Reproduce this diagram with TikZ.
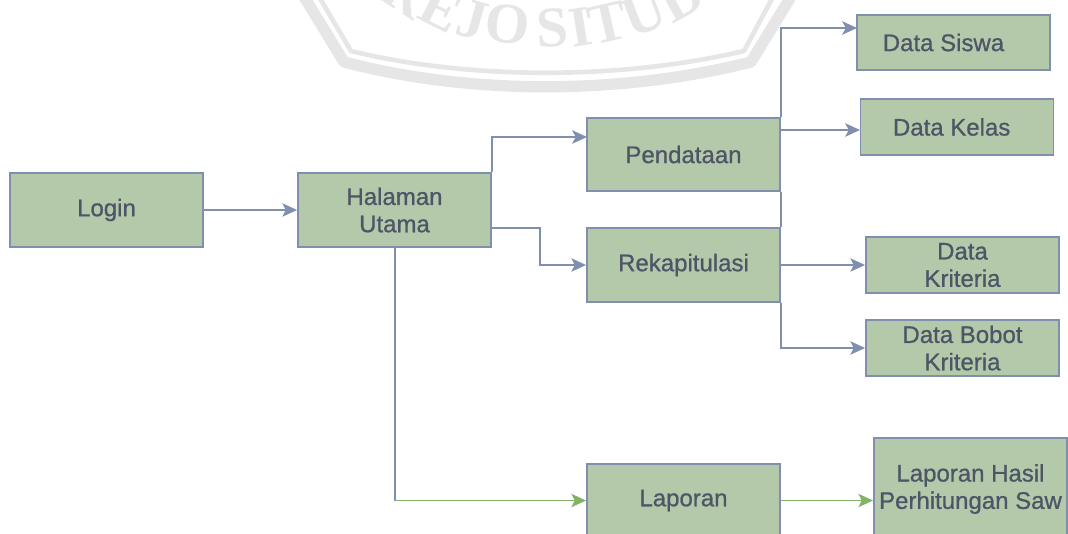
\documentclass[tikz,border=0pt]{standalone}
\usepackage{fontspec}
\setmainfont[FakeBold=0.8]{Liberation Sans}
\newfontfamily\sealfont{Liberation Serif}
\usetikzlibrary{arrows.meta}
\definecolor{boxfill}{HTML}{B3C9AA}
\definecolor{boxline}{HTML}{7F8FAD}
\definecolor{boxtext}{HTML}{4D5566}
\definecolor{greenline}{HTML}{82B366}
\definecolor{sealgrey}{HTML}{E6E6E6}
\tikzset{
  box/.style={draw=boxline, fill=boxfill, line width=1.4pt, minimum width=144.75pt, minimum height=55pt, inner sep=0pt, align=center, text=boxtext, font=\fontsize{18}{20.5}\selectfont},
  smallbox/.style={box, minimum height=41.5pt},
  link/.style={draw=boxline, line width=1.4pt},
  arrow/.style={link, -{Stealth[length=11pt, width=10pt, inset=2.5pt]}, boxline},
  greenarrow/.style={arrow, draw=greenline, greenline}
}
\begin{document}
\begin{tikzpicture}[x=0.75pt, y=-0.75pt]
  \useasboundingbox (0, 0) rectangle (1068, 533);

  % seal
  \begin{scope}
    \clip (0, 0) rectangle (1068, 533);
    \draw[sealgrey, line width=8.5pt, line join=round] (303, -5) -- (344, 62) .. controls (470, 95) and (620, 95) .. (751, 62) -- (792, -5);
    \draw[sealgrey, line width=3.5pt, line join=round] (318, -5) -- (351, 51) .. controls (470, 80) and (620, 80) .. (744, 51) -- (774, -5);
    \foreach \letter/\x/\y/\rot in {R/406/-6/-33, E/441/9/-27, J/472/20/-16, O/508/24/-6, S/552/28/3, I/581/27/9, T/608/23/13, U/644/14/21, D/682/-2/29} {
      \node[sealgrey, rotate=\rot, font=\sealfont\bfseries\fontsize{43}{43}\selectfont] at (\x, \y) {\letter};
    }
  \end{scope}

  % boxes
  \node[box] (login) at (106.5, 210) {Login};
  \node[box] (utama) at (394.5, 210) {Halaman\\Utama};
  \node[box] (pendataan) at (683.5, 154.5) {Pendataan};
  \node[box] (rekap) at (683.5, 265) {Rekapitulasi};
  \node[box] (laporan) at (683.5, 500.5) {Laporan};
  \node[smallbox] (siswa) at (953.5, 42.5) {Data Siswa\hspace*{15pt}};
  \node[smallbox] (kelas) at (957, 127) {Data Kelas\hspace*{8pt}};
  \node[smallbox] (kriteria) at (962.5, 265) {Data\\Kriteria};
  \node[smallbox] (bobot) at (962.5, 348) {Data Bobot\\Kriteria};
  \node[box, minimum height=76.5pt] (hasil) at (970.5, 489) {Laporan Hasil\\Perhitungan Saw};

  \coordinate (pendataanIn) at (587, 137);
  \coordinate (utamaOut) at (491, 228);
  \coordinate (utamaBelok) at (395, 500.5);
  \coordinate (siswaIn) at (857, 28);
  \coordinate (kelasIn) at (860, 130);
  \coordinate (kelasOut) at (780, 130);

  % connectors
  \draw[arrow] (login) -- (utama);
  \draw[arrow] (utama.north east) |- (pendataanIn);
  \draw[arrow] (utamaOut) -| (540, 265) -- (rekap);
  \draw[link] (utama.south -| utamaBelok) -- (utamaBelok);
  \draw[greenarrow] (utamaBelok) -- (laporan);
  \draw[greenarrow] (laporan) -- (hasil.west |- laporan);
  \draw[arrow] (pendataan.north east) |- (siswaIn);
  \draw[arrow] (kelasOut) -- (kelasIn);
  \draw[link] (pendataan.south east) -- (rekap.north east);
  \draw[arrow] (rekap) -- (kriteria);
  \draw[arrow] (rekap.south east) |- (bobot);
\end{tikzpicture}
\end{document}
